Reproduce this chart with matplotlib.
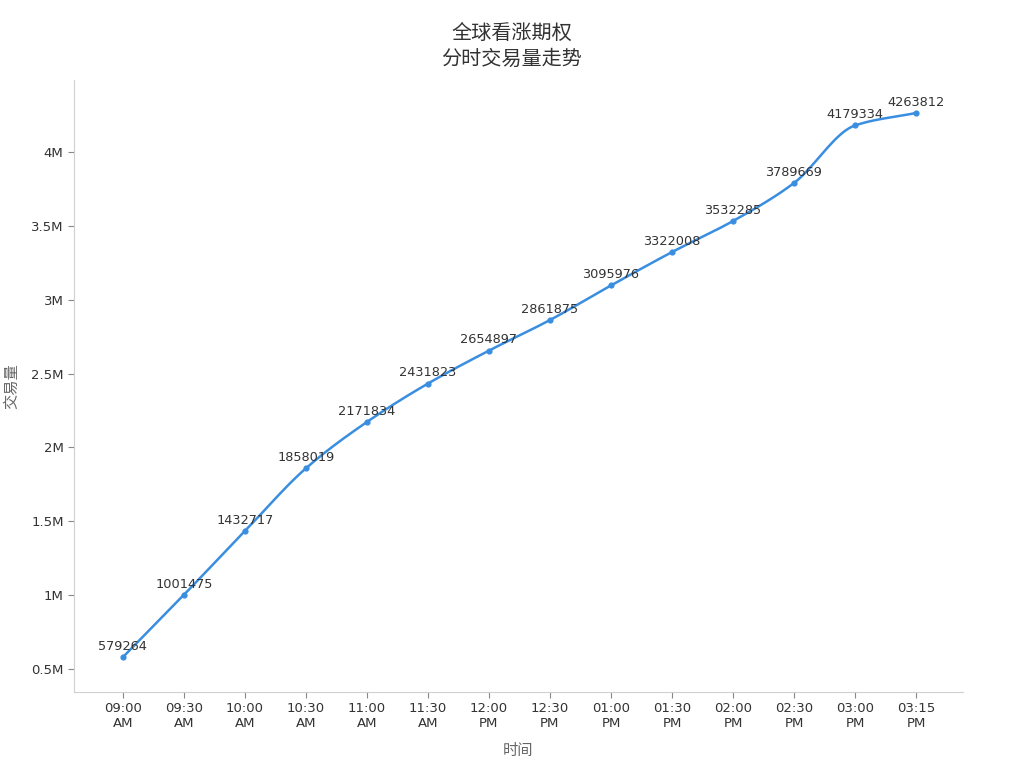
import numpy as np
import matplotlib.pyplot as plt
from matplotlib.ticker import FuncFormatter

plt.rcParams['font.family'] = ['Noto Sans CJK SC', 'DejaVu Sans']

times = ["09:00\nAM", "09:30\nAM", "10:00\nAM", "10:30\nAM", "11:00\nAM", "11:30\nAM",
         "12:00\nPM", "12:30\nPM", "01:00\nPM", "01:30\nPM", "02:00\nPM", "02:30\nPM",
         "03:00\nPM", "03:15\nPM"]
volume = [579264, 1001475, 1432717, 1858019, 2171834, 2431823, 2654897, 2861875,
          3095976, 3322008, 3532285, 3789669, 4179334, 4263812]

LINE = "#3a8ee0"


def _monotone_curve(x, y, n=20):
    # Fritsch-Carlson monotone cubic, only used to draw a smooth line between the points
    x = np.asarray(x, float)
    y = np.asarray(y, float)
    h = np.diff(x)
    d = np.diff(y) / h
    m = np.zeros_like(y)
    m[0], m[-1] = d[0], d[-1]
    for i in range(1, len(y) - 1):
        if d[i - 1] * d[i] > 0:
            w1 = 2 * h[i] + h[i - 1]
            w2 = h[i] + 2 * h[i - 1]
            m[i] = (w1 + w2) / (w1 / d[i - 1] + w2 / d[i])
    xs, ys = [], []
    for i in range(len(h)):
        t = np.linspace(0, 1, n, endpoint=False)
        h00 = 2 * t**3 - 3 * t**2 + 1
        h10 = t**3 - 2 * t**2 + t
        h01 = -2 * t**3 + 3 * t**2
        h11 = t**3 - t**2
        xs.append(x[i] + t * h[i])
        ys.append(h00 * y[i] + h10 * h[i] * m[i] + h01 * y[i + 1] + h11 * h[i] * m[i + 1])
    xs.append([x[-1]])
    ys.append([y[-1]])
    return np.concatenate(xs), np.concatenate(ys)


fig = plt.figure(figsize=(10.24, 7.68), dpi=100)
ax = fig.add_axes([74 / 1024, 1 - 692 / 768, (963 - 74) / 1024, (692 - 80) / 768])

pos = np.arange(len(times))
cx, cy = _monotone_curve(pos, volume)
ax.plot(cx, cy, color=LINE, linewidth=1.8)
ax.scatter(pos, volume, color=LINE, s=12, zorder=3)
for p, v in zip(pos, volume):
    ax.annotate(str(v), (p, v), xytext=(0, 3), textcoords="offset points",
                ha="center", va="bottom", fontsize=9.3, color="#333333",
                family="DejaVu Sans")

ax.set_xlim(-0.8, 13.77)
ax.set_ylim(344000, 4487000)
ax.set_xticks(pos)
ax.set_xticklabels(times)
ax.set_yticks([500000, 1000000, 1500000, 2000000, 2500000, 3000000, 3500000, 4000000])
ax.yaxis.set_major_formatter(FuncFormatter(lambda v, _: f"{v / 1e6:g}M"))

for side in ("top", "right"):
    ax.spines[side].set_visible(False)
for side in ("left", "bottom"):
    ax.spines[side].set_color("#d0d0d0")
ax.tick_params(colors="#888888", labelcolor="#333333", labelsize=9.5, length=4)
for lab in ax.get_xticklabels() + ax.get_yticklabels():
    lab.set_family("DejaVu Sans")

ax.set_xlabel("时间", fontsize=11, color="#666666")
ax.set_ylabel("交易量", fontsize=11, color="#666666")
ax.xaxis.set_label_coords(0.5, -(750 - 692) / (692 - 80), transform=ax.transAxes)
ax.yaxis.set_label_coords(-(74 - 12) / (963 - 74), 0.5, transform=ax.transAxes)
ax.xaxis.label.set_va("center")
ax.yaxis.label.set_va("center")
fig.suptitle("全球看涨期权\n分时交易量走势", fontsize=14.5, color="#333333", y=0.97,
             linespacing=1.3)

fig.savefig("out.png", dpi=100)
